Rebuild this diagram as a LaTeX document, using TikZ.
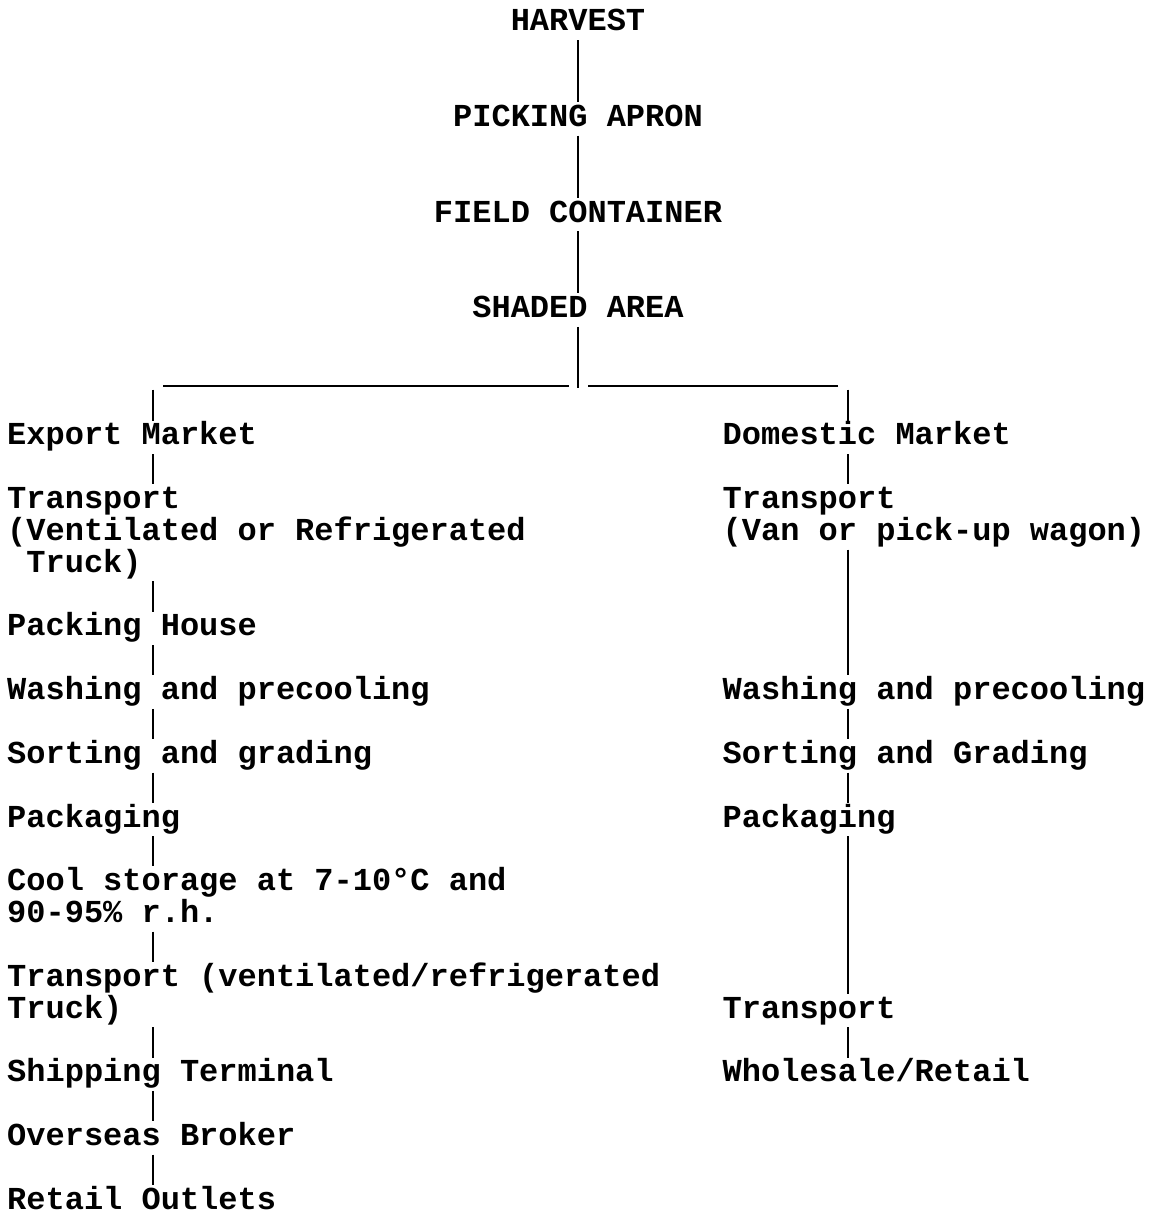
\documentclass[tikz,border=0pt]{standalone}
\usepackage{fontspec}
\newfontfamily\typewriter{Liberation Mono}
\usepackage{tikz}
\usetikzlibrary{calc}

\begin{document}
\begin{tikzpicture}[
x=1pt,y=-31.84pt,
stage/.style={
  font=\typewriter\bfseries\fontsize{32pt}{32pt}\selectfont,
  inner sep=0pt,
  text height=24pt,
  text depth=9pt,
  anchor=base west
  },
title/.style={
  stage,
  anchor=base
  },
link/.style={
  line width=1.6pt
  },
bar/.style={
  line width=2.4pt
  }
]
\useasboundingbox (0,{-31/31.84}) rectangle (1151,{1183/31.84});
% top chain
\node[title] (harvest) at (578,0) {HARVEST};
\node[title] (apron) at (578,3) {PICKING APRON};
\node[title] (container) at (578,6) {FIELD CONTAINER};
\node[title] (shaded) at (578,9) {SHADED AREA};
% export market
\node[stage] (exMarket) at (7,13) {Export Market};
\node[stage] (exTransport) at (7,15) {Transport};
\node[stage] (exTruckType) at (7,16) {(Ventilated or Refrigerated};
\node[stage] (exTruck) at (26.2,17) {Truck)};
\node[stage] (exHouse) at (7,19) {Packing House};
\node[stage] (exWashing) at (7,21) {Washing and precooling};
\node[stage] (exSorting) at (7,23) {Sorting and grading};
\node[stage] (exPackaging) at (7,25) {Packaging};
\node[stage] (exCool) at (7,27) {Cool storage at 7-10°C and};
\node[stage] (exHumidity) at (7,28) {90-95\% r.h.};
\node[stage] (exTransportB) at (7,30) {Transport (ventilated/refrigerated};
\node[stage] (exTruckB) at (7,31) {Truck)};
\node[stage] (exShipping) at (7,33) {Shipping Terminal};
\node[stage] (exBroker) at (7,35) {Overseas Broker};
\node[stage] (exRetail) at (7,37) {Retail Outlets};
% domestic market
\node[stage] (doMarket) at (722.5,13) {Domestic Market};
\node[stage] (doTransport) at (722.5,15) {Transport};
\node[stage] (doVan) at (722.5,16) {(Van or pick-up wagon)};
\node[stage] (doWashing) at (722.5,21) {Washing and precooling};
\node[stage] (doSorting) at (722.5,23) {Sorting and Grading};
\node[stage] (doPackaging) at (722.5,25) {Packaging};
\node[stage] (doTransportB) at (722.5,31) {Transport};
\node[stage] (doWholesale) at (722.5,33) {Wholesale/Retail};
% split
\coordinate (split) at (578,11.2);
\coordinate (barL) at (163,11.15);
\coordinate (barR) at (838,11.15);
\coordinate (exDrop) at (153,11.26);
\coordinate (doDrop) at (848,11.26);
\foreach \a/\b in {harvest/apron,apron/container,container/shaded}
  \draw[link] (\a) -- (\b);
\draw[link] (shaded) -- (split);
\draw[bar] (barL) -- ([xshift=-9pt]barL -| split);
\draw[bar] (barR) -- ([xshift=10pt]barR -| split);
\draw[link] (exDrop) -- (exMarket.north -| exDrop);
\draw[link] (doDrop) -- (doMarket.north -| doDrop);
\foreach \a/\b in {exMarket/exTransport,exTruck/exHouse,exHouse/exWashing,exWashing/exSorting,exSorting/exPackaging,exPackaging/exCool,exHumidity/exTransportB,exTruckB/exShipping,exShipping/exBroker,exBroker/exRetail}
  \draw[link] (\a.south -| exDrop) -- (\b.north -| exDrop);
\foreach \a/\b in {doMarket/doTransport,doVan/doWashing,doWashing/doSorting,doSorting/doPackaging,doPackaging/doTransportB,doTransportB/doWholesale}
  \draw[link] (\a.south -| doDrop) -- (\b.north -| doDrop);
\end{tikzpicture}
\end{document}
